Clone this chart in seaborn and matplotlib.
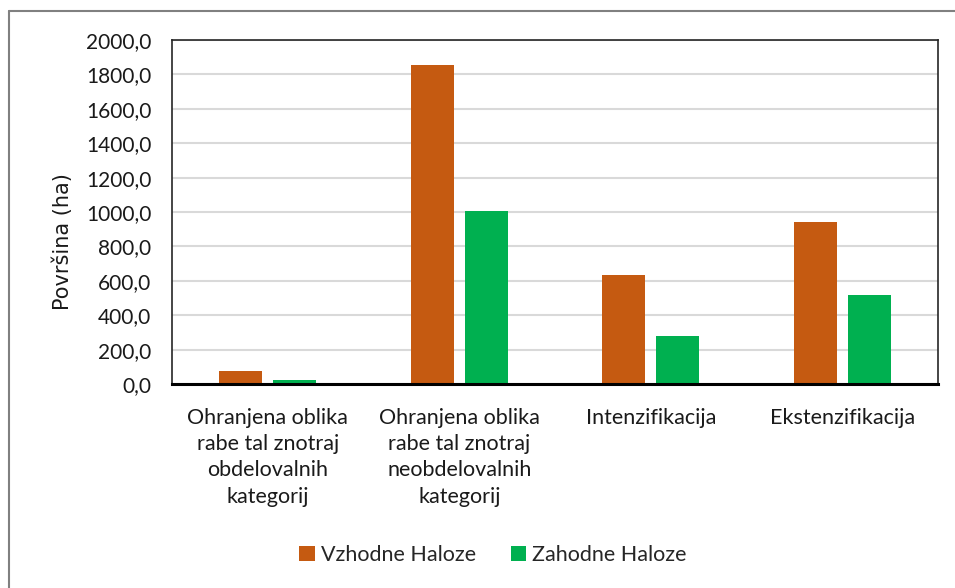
import matplotlib
matplotlib.use("Agg")
import matplotlib.pyplot as plt
from matplotlib.lines import Line2D
from matplotlib.patches import Patch
import seaborn as sns
import pandas as pd

# Land-use change categories and area (ha) per region
categories = [
    "Ohranjena oblika\nrabe tal znotraj\nobdelovalnih\nkategorij",
    "Ohranjena oblika\nrabe tal znotraj\nneobdelovalnih\nkategorij",
    "Intenzifikacija",
    "Ekstenzifikacija",
]
series_names = ["Vzhodne Haloze", "Zahodne Haloze"]
vzhodne = [73.0, 1855.0, 632.0, 942.0]
zahodne = [23.0, 1008.0, 280.0, 516.0]
y_ticks = [0, 200, 400, 600, 800, 1000, 1200, 1400, 1600, 1800, 2000]
colors = ["#C55A11", "#00B050"]

df = pd.DataFrame({
    "kategorija": categories * 2,
    "regija": [series_names[0]] * 4 + [series_names[1]] * 4,
    "povrsina": vzhodne + zahodne,
})

sns.set_theme(style="white")
plt.rcParams["font.family"] = ["Lato", "DejaVu Sans"]

W, H = 955, 588
fig = plt.figure(figsize=(W / 100, H / 100), dpi=100)
ax = fig.add_axes([172 / W, 1 - 384 / H, (938 - 172) / W, (384 - 40) / H])

sns.barplot(
    data=df, x="kategorija", y="povrsina", hue="regija",
    order=categories, hue_order=series_names,
    palette=colors, saturation=1, width=0.564, gap=0.204,
    edgecolor="none", linewidth=0, ax=ax, legend=False,
)

ax.set_ylim(0, 2000)
ax.set_xlim(-0.5, len(categories) - 0.5)
ax.set_yticks(y_ticks)
ax.set_yticklabels([f"{v:.1f}".replace(".", ",") for v in y_ticks])
ax.set_xticks(range(len(categories)))
ax.set_xticklabels(categories, linespacing=1.4, va="top")
ax.yaxis.grid(True, color="#d9d9d9", linewidth=1.5)
ax.set_axisbelow(True)
ax.tick_params(axis="y", length=0, pad=15, labelsize=15, colors="#1a1a1a")
ax.tick_params(axis="x", length=0, pad=17, labelsize=15.5, colors="#1a1a1a")

ax.set_xlabel("")
ax.set_ylabel("Površina (ha)", fontsize=15, family="DejaVu Sans",
              color="#1a1a1a")
ax.yaxis.set_label_coords((73 - 172) / 766, (384 - 242) / 344)

for side in ["top", "left", "right"]:
    ax.spines[side].set_visible(True)
    ax.spines[side].set_color("#262626")
    ax.spines[side].set_linewidth(1.2)
ax.spines["bottom"].set_color("black")
ax.spines["bottom"].set_linewidth(2.2)

# chart area border
fig.add_artist(Line2D([8.5 / W, 8.5 / W], [0, 1 - 11 / H],
                      color="#808080", linewidth=1.5))
fig.add_artist(Line2D([8.5 / W, 1], [1 - 11 / H, 1 - 11 / H],
                      color="#808080", linewidth=1.5))

handles = [Patch(facecolor=c, edgecolor="none") for c in colors]
fig.legend(handles, series_names, loc="center",
           bbox_to_anchor=(493 / W, 1 - 555 / H), ncol=2, frameon=False,
           fontsize=15.5, handlelength=0.7, handleheight=0.7,
           handletextpad=0.3, columnspacing=1.6)

fig.savefig("out.png", dpi=100, facecolor="white")
